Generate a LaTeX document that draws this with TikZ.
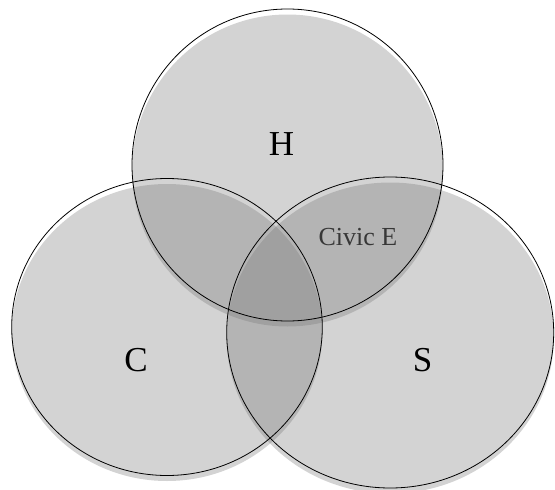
\documentclass[tikz,border=0pt]{standalone}
\usepackage{fontspec}
\setmainfont{Liberation Serif}
\begin{document}
\begin{tikzpicture}[x=1pt,y=-1pt]
\definecolor{vfill}{RGB}{117,117,117}
\definecolor{labelgray}{RGB}{55,55,55}
\tikzset{
  setfill/.style={fill=vfill,fill opacity=0.32,draw=none},
  setline/.style={draw=black,line width=0.8pt},
  biglabel/.style={inner sep=0pt,font=\fontsize{35}{40}\selectfont,text=black},
  smalllabel/.style={inner sep=0pt,font=\fontsize{26}{30}\selectfont,text=labelgray}
}
\useasboundingbox (0,0) rectangle (555,490);
% shaded fills, shifted down a little
\fill[setfill] (287.5,170.5) ellipse [x radius=155.5pt, y radius=156pt];
\fill[setfill] (167,332.5) ellipse [x radius=155.3pt, y radius=148.5pt];
\fill[setfill] (390.2,338) ellipse [x radius=163.5pt, y radius=155.5pt];
% outlines
\draw[setline] (287.5,165) ellipse [x radius=155.5pt, y radius=156pt];
\draw[setline] (167,327) ellipse [x radius=155.3pt, y radius=148.5pt];
\draw[setline] (390.2,332.5) ellipse [x radius=163.5pt, y radius=155.5pt];
% labels
\node[biglabel] (h) at (281.4,143.7) {H};
\node[biglabel] (c) at (136,360) {C};
\node[biglabel] (s) at (422.7,360) {S};
\node[smalllabel] (civic) at (358,236.7) {Civic E};
\end{tikzpicture}
\end{document}
